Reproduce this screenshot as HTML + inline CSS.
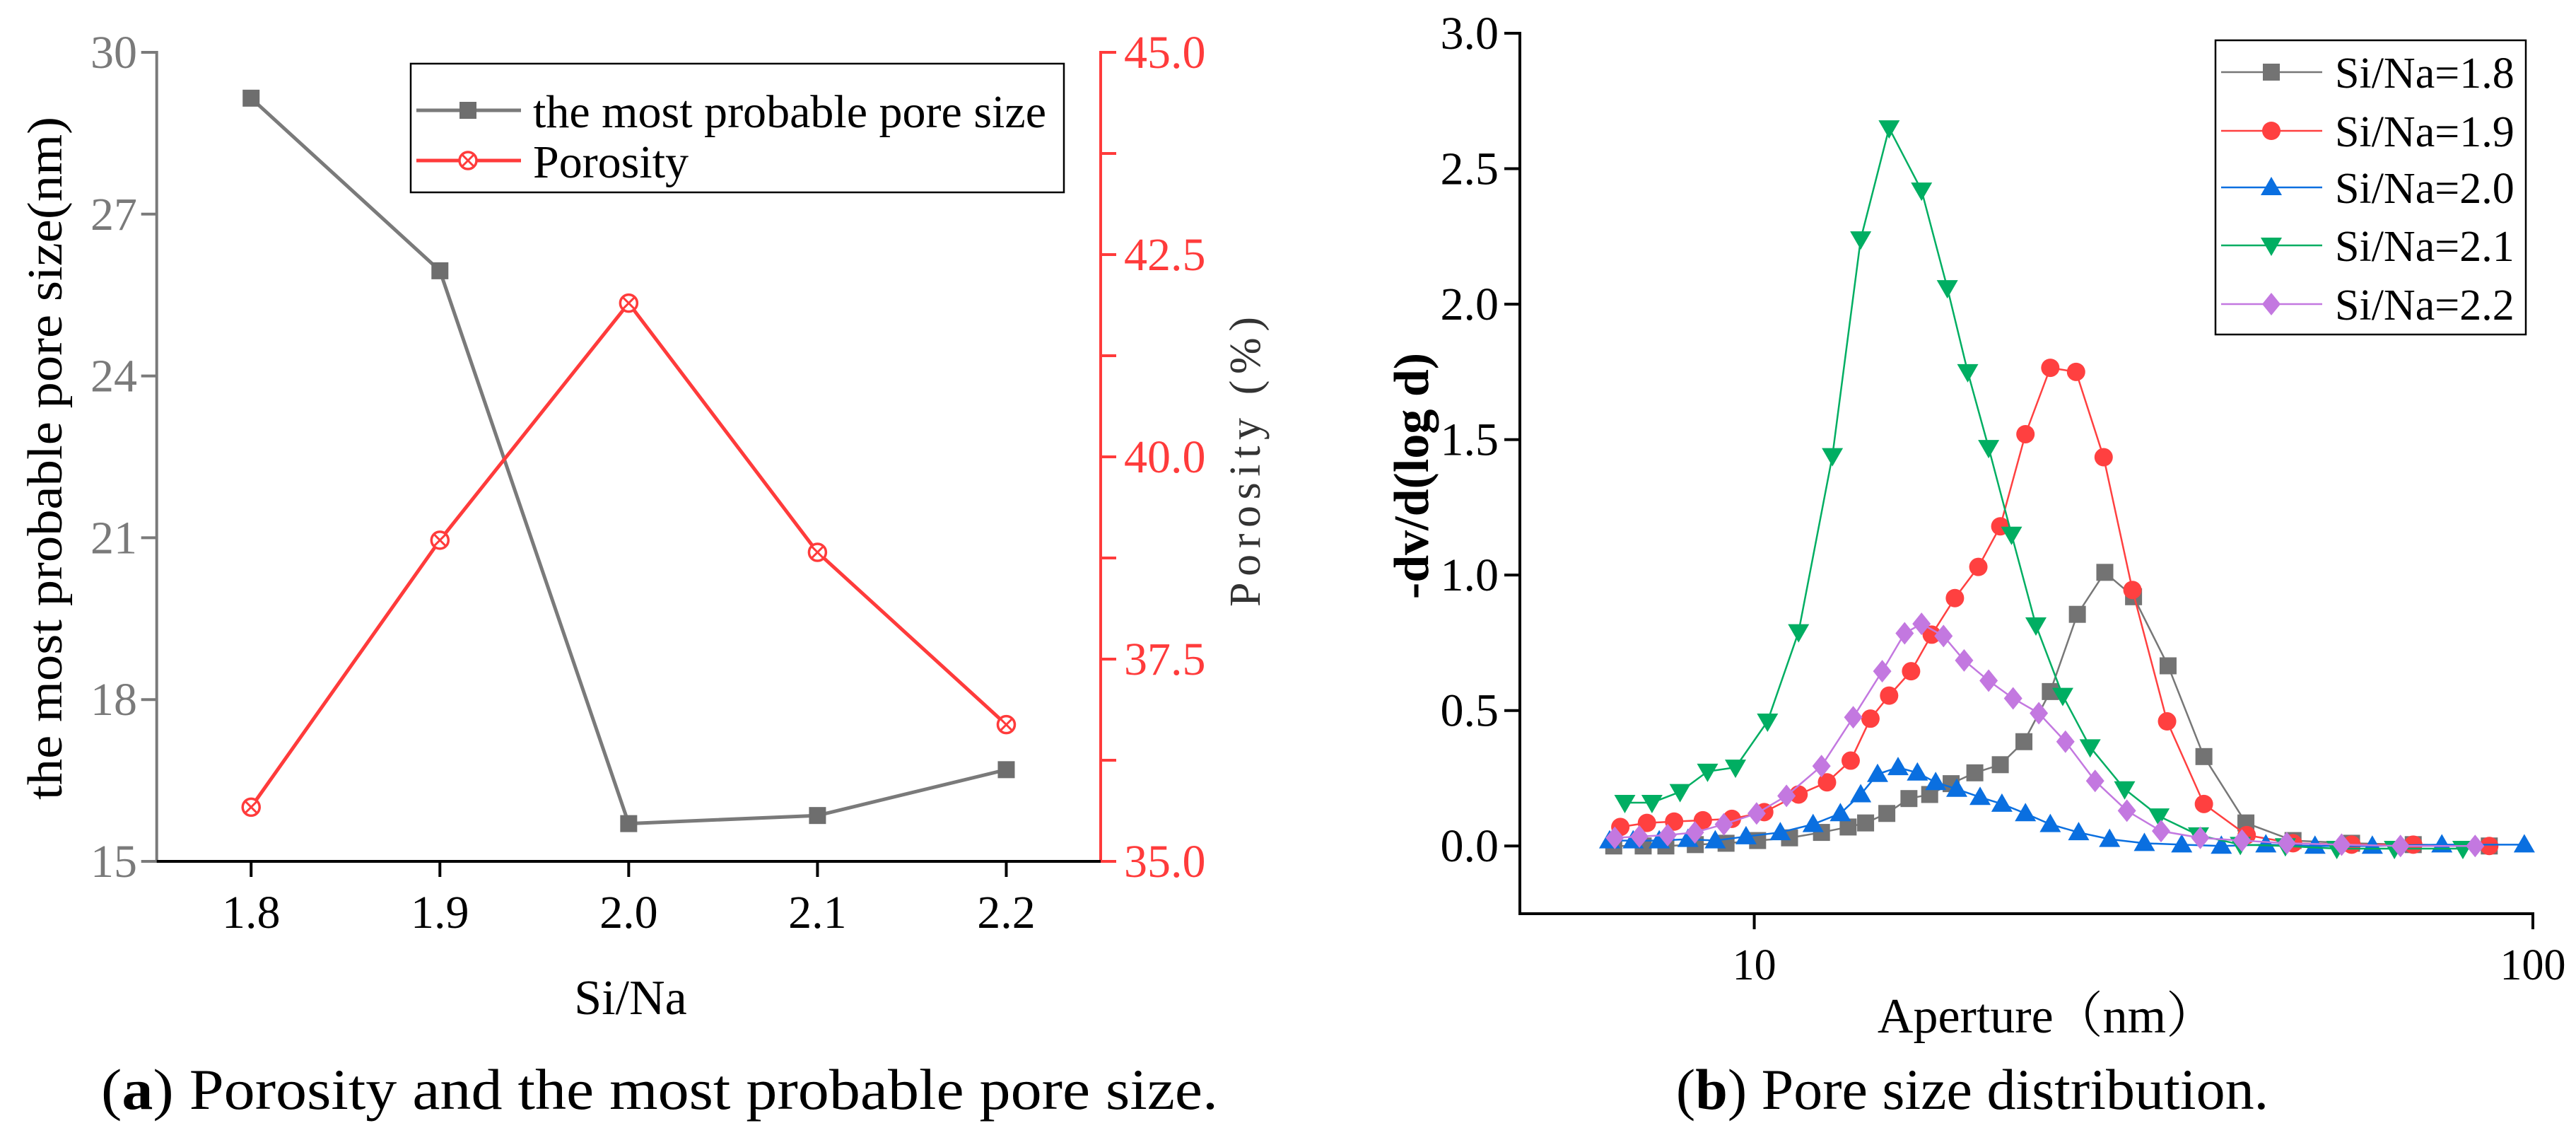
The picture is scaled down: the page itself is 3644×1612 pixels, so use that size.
<!DOCTYPE html>
<html><head><meta charset="utf-8"><style>
html,body{margin:0;padding:0;background:#fff}
svg{display:block;font-family:"Liberation Serif","Times New Roman",Times,"Noto Serif CJK SC","DejaVu Serif",serif}
svg text, svg tspan{font-family:"Liberation Serif","Times New Roman",Times,"Noto Serif CJK SC","DejaVu Serif",serif}
</style></head><body>
<svg id="fig" width="3644" height="1612" viewBox="0 0 3644 1612" xmlns="http://www.w3.org/2000/svg">
<g id="pa"></g>
<g id="pb"></g>
</svg>
<script>
// ---------- Panel (a) data ----------
const siNa = [1.8, 1.9, 2.0, 2.1, 2.2];
const poreSize = [29.15, 25.95, 15.7, 15.85, 16.7];
const porosity = [35.67, 38.97, 41.9, 38.82, 36.69];
const leftTicks = [15, 18, 21, 24, 27, 30];
const rightTicks = ["35.0", "37.5", "40.0", "42.5", "45.0"];
const xTicksA = ["1.8", "1.9", "2.0", "2.1", "2.2"];

// ---------- Panel (b) data ----------
const seriesNames = ["Si/Na=1.8", "Si/Na=1.9", "Si/Na=2.0", "Si/Na=2.1", "Si/Na=2.2"];
const x18 = [6.6,7.2,7.7,8.4,9.2,10.1,11.1,12.2,13.2,13.9,14.8,15.8,16.8,17.9,19.2,20.7,22.2,24.0,26.0,28.2,30.7,34.0,37.8,42.8,49.2,58.5,70.2,87.9];
const y18 = [0.0,0.0,0.0,0.005,0.01,0.02,0.03,0.05,0.07,0.085,0.12,0.175,0.19,0.23,0.27,0.30,0.385,0.57,0.855,1.01,0.92,0.665,0.33,0.085,0.02,0.01,0.005,0.0];
const x19 = [6.73,7.28,7.89,8.59,9.36,10.3,11.4,12.4,13.3,14.1,14.9,15.9,16.9,18.1,19.4,20.7,22.3,24.0,25.9,28.1,30.6,33.9,37.8,42.9,49.2,58.5,70.2,87.9];
const y19 = [0.07,0.085,0.09,0.095,0.10,0.125,0.19,0.235,0.315,0.47,0.555,0.645,0.78,0.915,1.03,1.18,1.52,1.765,1.75,1.435,0.945,0.46,0.155,0.04,0.01,0.005,0.005,0.0];
const x20 = [6.52,6.99,7.55,8.22,8.91,9.76,10.8,11.9,12.9,13.7,14.4,15.3,16.2,17.1,18.2,19.5,20.8,22.3,24.0,26.1,28.6,31.7,35.4,39.8,45.4,52.5,62.2,76.4,97.5];
const y20 = [0.02,0.02,0.02,0.025,0.02,0.035,0.05,0.08,0.12,0.19,0.265,0.29,0.27,0.235,0.21,0.18,0.155,0.12,0.08,0.05,0.025,0.01,0.005,0.0,0.005,0.0,0.0,0.005,0.005];
const x21 = [6.82,7.39,8.03,8.71,9.46,10.4,11.4,12.6,13.7,14.9,16.4,17.7,18.8,20.0,21.4,23.0,24.9,27.0,29.9,33.1,37.2,42.1,48.1,56.0,66.4,81.3];
const y21 = [0.16,0.16,0.2,0.275,0.29,0.46,0.79,1.44,2.24,2.65,2.42,2.06,1.75,1.47,1.15,0.815,0.555,0.365,0.21,0.11,0.04,0.005,0.0,-0.01,-0.01,-0.01];
const x22 = [6.62,7.12,7.74,8.39,9.14,10.07,11.0,12.2,13.4,14.6,15.6,16.4,17.5,18.6,20.0,21.5,23.2,25.1,27.4,30.1,33.3,37.4,42.3,48.3,56.8,67.6,84.3];
const y22 = [0.03,0.035,0.04,0.05,0.08,0.12,0.185,0.295,0.475,0.645,0.785,0.82,0.775,0.685,0.61,0.545,0.49,0.385,0.24,0.13,0.055,0.03,0.02,0.01,0.005,0.0,0.0];
const yTicksB = ["0.0","0.5","1.0","1.5","2.0","2.5","3.0"];
const xTicksB = [10, 100];

const NS = "http://www.w3.org/2000/svg";
function mk(parent, tag, attrs, txt) {
  const e = document.createElementNS(NS, tag);
  for (const k in attrs) e.setAttribute(k, attrs[k]);
  if (txt !== undefined) {
    if (tag === 'text') {
      const ts = document.createElementNS(NS, 'tspan');
      ts.textContent = txt;
      e.appendChild(ts);
    } else e.textContent = txt;
  }
  parent.appendChild(e);
  return e;
}

// ================= Panel A =================
const pa = document.getElementById('pa');
const AX0 = 221.7, AX1 = 1557, AY0 = 1218, AY1 = 74;
const ax = v => AX0 + (v - 1.75) / 0.5 * (AX1 - AX0);
const ayL = v => AY0 - (v - 15) / 15 * (AY0 - AY1);
const ayR = v => AY0 - (v - 35) / 10 * (AY0 - AY1);
const GRAY = "#7a7a7a", RED = "#ff3b3b";

let e;
e = mk(pa, 'line', {x1:AX0, y1:AY1-2, x2:AX0, y2:AY0+2, stroke:GRAY, 'stroke-width':4});
 
e = mk(pa, 'line', {x1:AX1, y1:AY1-2, x2:AX1, y2:AY0+2, stroke:RED, 'stroke-width':4});
 
e = mk(pa, 'line', {x1:AX0-2, y1:AY0, x2:AX1+2, y2:AY0, stroke:"#000", 'stroke-width':4});
 

leftTicks.forEach(t => {
  const y = ayL(t);
  e = mk(pa, 'line', {x1:AX0-22, y1:y, x2:AX0, y2:y, stroke:GRAY, 'stroke-width':4});
   
  e = mk(pa, 'text', {x:194, y:y+22, 'text-anchor':'end', 'font-size':66, fill:GRAY}, String(t));
   
});
for (let i = 0; i <= 8; i++) {
  const y = ayR(35 + i * 1.25);
  e = mk(pa, 'line', {x1:AX1, y1:y, x2:AX1+22, y2:y, stroke:RED, 'stroke-width':4});
   
}
rightTicks.forEach(t => {
  const y = ayR(parseFloat(t));
  e = mk(pa, 'text', {x:1590, y:y+22, 'font-size':66, fill:RED}, t);
   
});
xTicksA.forEach(t => {
  const x = ax(parseFloat(t));
  e = mk(pa, 'line', {x1:x, y1:AY0, x2:x, y2:AY0+22, stroke:"#000", 'stroke-width':4});
   
  e = mk(pa, 'text', {x:x, y:1312, 'text-anchor':'middle', 'font-size':66, fill:"#000"}, t);
   
});

e = mk(pa, 'text', {x:892, y:1434, 'text-anchor':'middle', 'font-size':70, fill:"#000"}, "Si/Na");
 
e = mk(pa, 'text', {x:0, y:0, 'text-anchor':'middle', 'font-size':70, fill:"#000", transform:'translate(87,648) rotate(-90)', textLength:966, lengthAdjust:'spacingAndGlyphs'}, "the most probable pore size(nm)");
 
e = mk(pa, 'text', {x:0, y:0, 'text-anchor':'middle', 'font-size':62, fill:"#333", transform:'translate(1782,653) rotate(-90)', textLength:410, lengthAdjust:'spacing'}, "Porosity (%)");
 

// pore size line
e = mk(pa, 'polyline', {points: siNa.map((v,i)=>ax(v)+','+ayL(poreSize[i])).join(' '), fill:'none', stroke:GRAY, 'stroke-width':5});
 
siNa.forEach((v,i)=>{
  e = mk(pa, 'rect', {x:ax(v)-12, y:ayL(poreSize[i])-12, width:24, height:24, fill:"#6e6e6e"});
   
});
// porosity line
e = mk(pa, 'polyline', {points: siNa.map((v,i)=>ax(v)+','+ayR(porosity[i])).join(' '), fill:'none', stroke:RED, 'stroke-width':5});
 
function xcircle(g, cx, cy, name) {
  const grp = mk(g, 'g', {});
   
  mk(grp, 'circle', {cx:cx, cy:cy, r:12, fill:'#fff', stroke:RED, 'stroke-width':3.5});
  mk(grp, 'path', {d:`M${cx-8} ${cy-8}L${cx+8} ${cy+8}M${cx+8} ${cy-8}L${cx-8} ${cy+8}`, stroke:RED, 'stroke-width':3});
}
siNa.forEach((v,i)=> xcircle(pa, ax(v), ayR(porosity[i]), 'porosity-point'));

// legend A
const lgA = mk(pa, 'g', {});
 
mk(lgA, 'rect', {x:581, y:90, width:924, height:182, fill:'#fff', stroke:'#000', 'stroke-width':2.5});
mk(lgA, 'line', {x1:589, y1:156, x2:737, y2:156, stroke:GRAY, 'stroke-width':5});
mk(lgA, 'rect', {x:650, y:144, width:24, height:24, fill:'#6e6e6e'});
e = mk(lgA, 'text', {x:754, y:180, 'font-size':66, fill:'#000', textLength:726, lengthAdjust:'spacingAndGlyphs'}, "the most probable pore size");
 
mk(lgA, 'line', {x1:589, y1:227, x2:737, y2:227, stroke:RED, 'stroke-width':5});
xcircle(lgA, 662, 227, 'legend-porosity-marker');
e = mk(lgA, 'text', {x:754, y:251, 'font-size':66, fill:'#000'}, "Porosity");
 

e = mk(pa, 'text', {x:933, y:1568, 'text-anchor':'middle', 'font-size':82, fill:'#000', textLength:1580, lengthAdjust:'spacingAndGlyphs'});
 
e.innerHTML = '(<tspan font-weight="bold">a</tspan>) Porosity and the most probable pore size.';

// ================= Panel B =================
const pb = document.getElementById('pb');
const BX0 = 2150, BX1 = 3583, BY0 = 1292, BY1 = 47;
const bx = v => BX0 + (Math.log10(v) - Math.log10(5)) / (2 - Math.log10(5)) * (BX1 - BX0);
const by = v => BY0 - (v + 0.25) / 3.25 * (BY0 - BY1);

e = mk(pb, 'line', {x1:BX0, y1:BY1-2, x2:BX0, y2:BY0+2, stroke:'#000', 'stroke-width':4});
 
e = mk(pb, 'line', {x1:BX0-2, y1:BY0, x2:BX1+2, y2:BY0, stroke:'#000', 'stroke-width':4});
 
yTicksB.forEach(t => {
  const y = by(parseFloat(t));
  e = mk(pb, 'line', {x1:BX0-22, y1:y, x2:BX0, y2:y, stroke:'#000', 'stroke-width':4});
   
  e = mk(pb, 'text', {x:2120, y:y+22, 'text-anchor':'end', 'font-size':66, fill:'#000'}, t);
   
});
xTicksB.forEach(t => {
  const x = bx(t);
  e = mk(pb, 'line', {x1:x, y1:BY0, x2:x, y2:BY0+22, stroke:'#000', 'stroke-width':4});
   
  e = mk(pb, 'text', {x:x, y:1385, 'text-anchor':'middle', 'font-size':62, fill:'#000'}, String(t));
   
});
e = mk(pb, 'text', {x:2895, y:1460, 'text-anchor':'middle', 'font-size':70, fill:'#000'}, "Aperture（nm）");
 
e = mk(pb, 'text', {x:0, y:0, 'text-anchor':'middle', 'font-size':70, 'font-weight':'bold', fill:'#000', transform:'translate(2020,673) rotate(-90)'}, "-dv/d(log d)");
 

const colors = ["#737373", "#ff4040", "#0a6fe0", "#00ae62", "#c378e0"];
const lineColors = ["#777777", "#ff4040", "#0a6fe0", "#00ae62", "#c378e0"];
const xs = [x18, x19, x20, x21, x22];
const ys = [y18, y19, y20, y21, y22];
function marker(g, k, cx, cy, name) {
  let m;
  const c = colors[k];
  if (k === 0) m = mk(g, 'rect', {x:cx-12, y:cy-12, width:24, height:24, fill:c});
  else if (k === 1) m = mk(g, 'circle', {cx:cx, cy:cy, r:13, fill:c});
  else if (k === 2) m = mk(g, 'path', {d:`M${cx} ${cy-15}L${cx+15} ${cy+11}L${cx-15} ${cy+11}Z`, fill:c});
  else if (k === 3) m = mk(g, 'path', {d:`M${cx} ${cy+15}L${cx+15} ${cy-11}L${cx-15} ${cy-11}Z`, fill:c});
  else m = mk(g, 'path', {d:`M${cx} ${cy-16}L${cx+13} ${cy}L${cx} ${cy+16}L${cx-13} ${cy}Z`, fill:c});
  
  
}
for (let k = 0; k < 5; k++) {
  const g = mk(pb, 'g', {});
  
  
  e = mk(g, 'polyline', {points: xs[k].map((v,i)=>bx(v)+','+by(ys[k][i])).join(' '), fill:'none', stroke:lineColors[k], 'stroke-width':2.5});
   
  xs[k].forEach((v,i)=> marker(g, k, bx(v), by(ys[k][i]), 'data-point'));
}

// legend B
const lgB = mk(pb, 'g', {});
 
mk(lgB, 'rect', {x:3134, y:57, width:439, height:416, fill:'#fff', stroke:'#000', 'stroke-width':2.5});
const rowsY = [102, 185, 265, 347, 430];
seriesNames.forEach((n, k) => {
  const y = rowsY[k];
  mk(lgB, 'line', {x1:3142, y1:y, x2:3285, y2:y, stroke:lineColors[k], 'stroke-width':2.5});
  marker(lgB, k, 3213, y, 'legend-marker');
  e = mk(lgB, 'text', {x:3303, y:y+22, 'font-size':62, fill:'#000'}, n);
   
});

e = mk(pb, 'text', {x:2790, y:1568, 'text-anchor':'middle', 'font-size':82, fill:'#000'});
 
e.innerHTML = '(<tspan font-weight="bold">b</tspan>) Pore size distribution.';
</script>
</body></html>
